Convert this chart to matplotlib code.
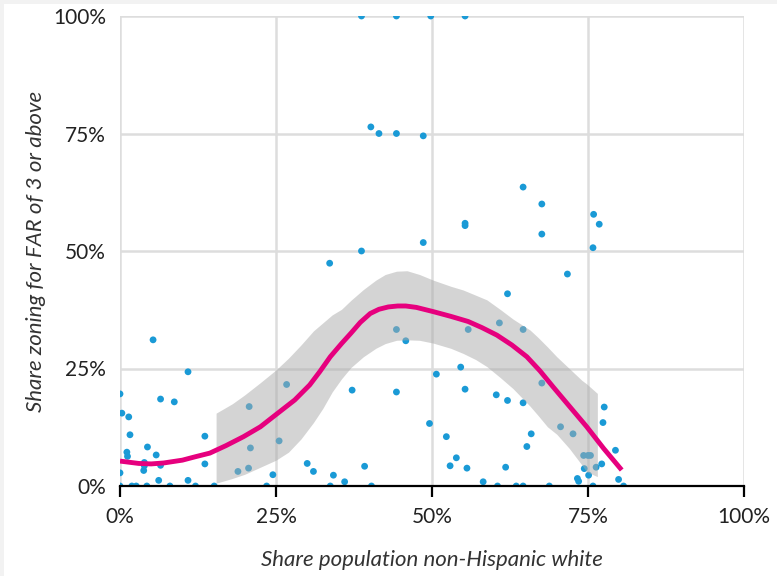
import matplotlib
matplotlib.use("Agg")
import matplotlib.pyplot as plt
from matplotlib.patches import Rectangle
from matplotlib.ticker import FuncFormatter

# Scatter data (share non-Hispanic white %, share zoning FAR>=3 %)
pts_x = [38.7, 44.3, 49.8, 55.3, 40.2, 41.5, 44.3, 48.6, 64.6, 67.6, 67.6, 75.9, 76.8, 75.8,
         55.3, 55.3, 48.6, 38.7, 33.6, 71.7, 62.1, 44.3, 45.8, 55.8, 60.8, 64.6, 5.3, 10.9,
         26.7, 67.6, 50.7, 54.6, 55.3, 37.2, 44.3, 60.3, 62.1, 64.6, 77.6, 77.4, 49.6, 70.6,
         72.6, 65.9, 52.3, 65.2, 53.9, 52.9, 55.6, 61.8, 39.2, 34.2, 36.0, 79.4, 79.9, 74.3,
         75.0, 75.4, 77.2, 76.3, 74.4, 75.1, 73.3, 73.5, 58.2, 0.0, 6.5, 8.7, 0.3, 1.4, 1.6,
         13.6, 4.4, 5.8, 1.1, 1.2, 3.9, 3.9, 3.8, 6.5, 13.6, 0.0, 6.2, 10.9, 20.7, 20.9, 20.6,
         18.9, 24.5, 25.5, 30.0, 31.0,
         0.0, 1.9, 2.6, 4.3, 8.0, 12.1, 15.1, 23.5, 33.7, 40.3, 60.5, 63.5, 64.6, 68.8, 75.8, 80.7]
pts_y = [100, 100, 100, 100, 76.4, 75.0, 75.0, 74.5, 63.6, 60.0, 53.6, 57.8, 55.7, 50.7,
         55.9, 55.4, 51.8, 50.0, 47.4, 45.1, 40.9, 33.3, 30.9, 33.3, 34.7, 33.3, 31.1, 24.3,
         21.6, 21.9, 23.8, 25.3, 20.6, 20.4, 20.0, 19.4, 18.2, 17.7, 16.8, 13.5, 13.3, 12.6,
         11.1, 11.1, 10.5, 8.4, 6.0, 4.3, 3.8, 4.0, 4.2, 2.3, 0.9, 7.6, 1.4, 6.5,
         6.5, 6.5, 4.7, 4.0, 3.7, 2.3, 1.6, 1.0, 0.9, 19.6, 18.5, 17.9, 15.5, 14.7, 10.9,
         10.6, 8.3, 6.6, 7.2, 6.3, 5.0, 4.3, 3.3, 4.4, 4.7, 2.8, 1.2, 1.2, 16.9, 8.1, 3.8,
         3.1, 2.4, 9.6, 4.8, 3.1,
         0, 0, 0, 0, 0, 0, 0, 0, 0, 0, 0, 0, 0, 0, 0, 0]

# Smoothed fit line
fit_x = [0, 3, 5, 7, 10, 12, 14.4, 17, 19.8, 22.5, 25.1, 28, 30.4, 32, 33.7, 35.5, 37, 38.5,
         40.1, 41.5, 43, 44.5, 45.8, 47.5, 50.2, 53, 55.8, 58, 60.4, 62.8, 65.2, 67.3, 69.4,
         72, 74.8, 77.5, 80.4]
fit_y = [5.3, 4.8, 4.7, 4.9, 5.5, 6.2, 7.0, 8.6, 10.5, 12.6, 15.3, 18.3, 21.5, 24.3, 27.5,
         30.3, 32.5, 34.8, 36.7, 37.6, 38.1, 38.3, 38.3, 38.0, 37.1, 36.1, 35.0, 33.7, 32.1,
         30.0, 27.5, 24.5, 21.1, 17.0, 12.6, 8.0, 3.4]

# Confidence band
band_x = [15.4, 18, 20, 22.5, 25, 27, 29, 31, 32.5, 34, 35.5, 37, 39, 41, 42.5, 44.3, 46, 48,
          50.2, 53, 55, 57, 58.8, 61, 63, 65.7, 67, 68.5, 70, 72, 74, 74.8, 76.5]
band_hi = [15.5, 17.5, 19.4, 22.0, 24.7, 27.2, 30.0, 33.0, 34.7, 36.4, 37.6, 39.5, 41.8,
           43.8, 45.0, 45.7, 45.8, 45.0, 43.8, 42.5, 41.7, 40.6, 39.6, 37.5, 35.5, 33.2,
           31.6, 29.6, 27.5, 25.0, 22.5, 21.7, 19.7]
band_lo = [0.6, 1.6, 2.5, 4.0, 5.5, 7.2, 10.0, 13.5, 16.5, 20.0, 22.8, 25.2, 27.5, 29.3,
           30.3, 31.0, 31.1, 31.0, 30.4, 29.3, 28.2, 26.9, 25.4, 23.0, 20.7, 17.0, 15.0,
           12.6, 11.0, 8.0, 4.5, 3.0, 2.0]

ticks = [0, 25, 50, 75, 100]

plt.rcParams['font.family'] = ['Lato', 'DejaVu Sans']

fig = plt.figure(figsize=(7.77, 5.76), dpi=100, facecolor='#f2f2f2')
fig.patches.append(Rectangle((4 / 777, 0), 1, 1 - 4 / 576, transform=fig.transFigure,
                             facecolor='white', edgecolor='none', zorder=-10))
ax = fig.add_axes([120 / 777, 1 - 486 / 576, 624 / 777, 470 / 576])
ax.set_facecolor('white')

ax.set_xlim(0, 100)
ax.set_ylim(0, 100)
ax.set_xticks(ticks)
ax.set_yticks(ticks)
fmt = FuncFormatter(lambda v, p: f"{int(v)}%")
ax.xaxis.set_major_formatter(fmt)
ax.yaxis.set_major_formatter(fmt)
ax.grid(True, color='#dddddd', linewidth=1.8, zorder=0)
ax.set_axisbelow(True)

ax.scatter(pts_x, pts_y, s=24, color='#1a9ad6', edgecolors='none', zorder=2)
ax.fill_between(band_x, band_lo, band_hi, color='#aaaaaa', alpha=0.5, linewidth=0, zorder=3)
ax.plot(fit_x, fit_y, color='#e6007e', linewidth=3.5, solid_capstyle='butt',
        solid_joinstyle='round', zorder=4)

for s in ['top', 'right', 'left']:
    ax.spines[s].set_visible(False)
ax.spines['bottom'].set_color('black')
ax.spines['bottom'].set_linewidth(1.6)
ax.spines['bottom'].set_zorder(5)

ax.tick_params(axis='x', length=8, width=1.6, color='black', direction='out',
               labelsize=15, labelcolor='#222222', pad=7)
ax.tick_params(axis='y', length=0, labelsize=15, labelcolor='#222222', pad=10)

ax.set_xlabel('Share population non-Hispanic white', fontsize=16, style='italic',
              color='#333333', labelpad=17)
ax.set_ylabel('Share zoning for FAR of 3 or above', fontsize=16, style='italic',
              color='#333333', labelpad=5)

fig.savefig('out.png', dpi=100, facecolor=fig.get_facecolor())
